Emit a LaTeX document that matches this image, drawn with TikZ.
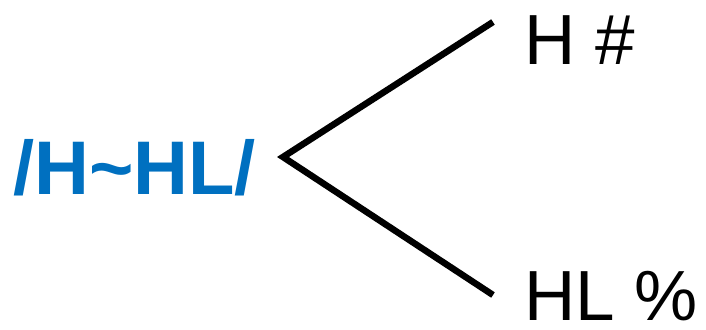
\documentclass[tikz,border=0pt]{standalone}
\usepackage{fontspec}
\setmainfont{Liberation Sans}
\usetikzlibrary{positioning}
\definecolor{tone}{HTML}{0070C0}

\begin{document}
\begin{tikzpicture}[x=1pt,y=-1pt,
form/.style={inner sep=0pt,anchor=base west,font=\fontsize{76}{80}\selectfont\bfseries,text=tone},
tune/.style={inner sep=0pt,anchor=base west,text depth=0pt,font=\fontsize{71}{80}\selectfont},
branch/.style={line width=6.5pt}]
\useasboundingbox (0,0) rectangle (706,329);
\node[form] (lex) at (13,194) {/H\char`\~HL/};
\node[tune] (high) at (524,64) {H \#};
\node[tune] (fall) at (524,320) {HL \%};
\coordinate (fork) at (283,157);
\coordinate (up) at (493,22);
\coordinate (dn) at (493,295);
\draw[branch] (up) -- (fork) -- (dn);
\end{tikzpicture}
\end{document}
